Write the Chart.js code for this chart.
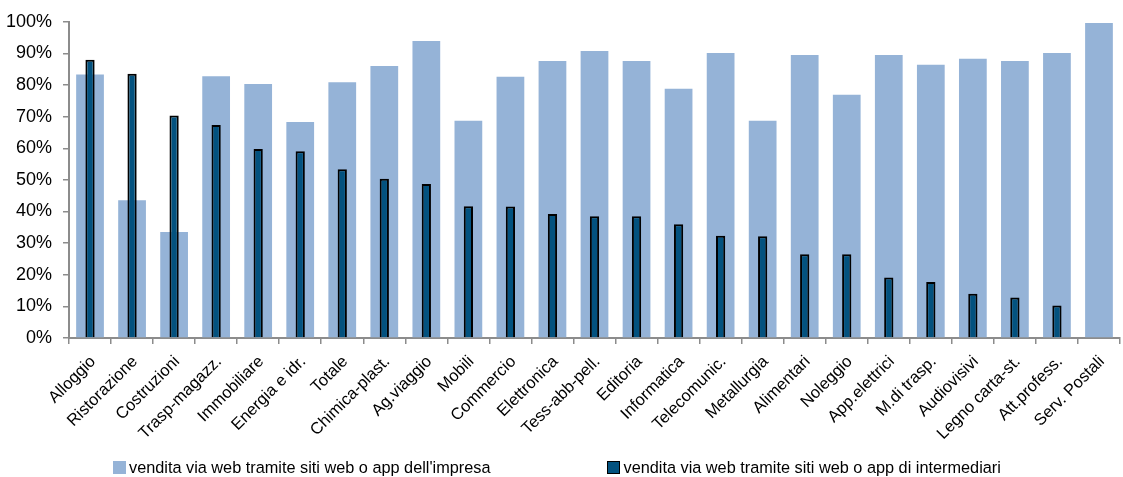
<!DOCTYPE html>
<html>
<head>
<meta charset="utf-8">
<script src="https://cdn.jsdelivr.net/npm/chart.js@4"></script>
<style>
  html, body { margin: 0; padding: 0; background: #fff; }
  #wrap { position: relative; width: 1123px; height: 477px; }
  #legend {
    position: absolute; left: 113px; top: 458px;
    display: flex; gap: 117px;
    font: 16.3px 'Liberation Sans', Arial, sans-serif; color: #000;
    line-height: 18px; white-space: nowrap;
  }
  #legend .item { display: flex; align-items: center; }
  #legend .box { width: 13px; height: 13px; margin-right: 3px; box-sizing: border-box; }
</style>
</head>
<body>
<div id="wrap">
  <canvas id="webSalesChart"></canvas>
  <div id="legend"></div>
</div>
<script>
// settori
const sectors = ["Alloggio", "Ristorazione", "Costruzioni", "Trasp-magazz.", "Immobiliare", "Energia e idr.",
  "Totale", "Chimica-plast.", "Ag.viaggio", "Mobili", "Commercio", "Elettronica", "Tess-abb-pell.",
  "Editoria", "Informatica", "Telecomunic.", "Metallurgia", "Alimentari", "Noleggio", "App.elettrici",
  "M.di trasp.", "Audiovisivi", "Legno carta-st.", "Att.profess.", "Serv. Postali"];

// % imprese - siti web o app dell'impresa
const ownSiteValues = [83.3, 43.6, 33.5, 82.8, 80.3, 68.3, 80.9, 86.0, 93.9, 68.7, 82.6, 87.6, 90.8,
  87.6, 78.8, 90.1, 68.7, 89.5, 76.9, 89.5, 86.4, 88.3, 87.6, 90.1, 99.6];

// % imprese - siti web o app di intermediari
const intermediaryValues = [88.0, 83.6, 70.4, 67.4, 59.8, 59.1, 53.4, 50.4, 48.7, 41.7, 41.6, 39.2, 38.5,
  38.5, 36.0, 32.3, 32.2, 26.5, 26.5, 19.1, 17.7, 14.0, 12.8, 10.3, null];

const yTicks = [0, 10, 20, 30, 40, 50, 60, 70, 80, 90, 100];

const axisGrey = "#8c8c8c";
const font = "'Liberation Sans', Arial, sans-serif";

const ctx = document.getElementById("webSalesChart").getContext("2d");
const chart = new Chart(ctx, {
  type: "bar",
  data: {
    labels: sectors,
    datasets: [{
      label: "vendita via web tramite siti web o app dell'impresa",
      data: ownSiteValues,
      backgroundColor: "#95b3d7",
      borderWidth: 0,
      grouped: false,
      order: 2,
      categoryPercentage: 1,
      barPercentage: 0.66
    }, {
      label: "vendita via web tramite siti web o app di intermediari",
      data: intermediaryValues,
      backgroundColor: "#03527f",
      borderColor: "#000",
      borderWidth: 2,
      borderSkipped: "bottom",
      grouped: false,
      order: 1,
      categoryPercentage: 1,
      barPercentage: 0.22
    }]
  },
  options: {
    responsive: true,
    maintainAspectRatio: false,
    animation: false,
    layout: { padding: { top: 21, right: 3, bottom: 0, left: 0 } },
    plugins: {
      tooltip: { enabled: false },
      legend: { display: false }
    },
    scales: {
      x: {
        offset: true,
        afterFit(scale) { scale.height = 139; },
        grid: { display: true, offset: true, drawOnChartArea: false, drawTicks: true, tickLength: 6, color: axisGrey, lineWidth: 1.5 },
        border: { color: axisGrey, width: 2 },
        ticks: {
          minRotation: 45,
          maxRotation: 45,
          autoSkip: false,
          color: "#000",
          font: { family: font, size: 16.5 },
          padding: 8,
          labelOffset: 3
        }
      },
      y: {
        min: 0,
        max: 100,
        afterBuildTicks(scale) { scale.ticks = yTicks.map(v => ({ value: v })); },
        afterFit(scale) { scale.width = 69; },
        grid: { display: true, drawOnChartArea: false, drawTicks: true, tickLength: 6, color: axisGrey, lineWidth: 1.5 },
        border: { color: axisGrey, width: 2 },
        ticks: {
          color: "#000",
          font: { family: font, size: 18 },
          padding: 11,
          callback: v => v + "%"
        }
      }
    }
  }
});

// legenda in HTML
const legendEl = document.getElementById("legend");
chart.data.datasets.forEach((ds, i) => {
  const item = document.createElement("div");
  item.className = "item";
  const box = document.createElement("span");
  box.className = "box";
  box.style.background = ds.backgroundColor;
  if (i === 1) box.style.border = "1.5px solid #000";
  const txt = document.createElement("span");
  txt.textContent = ds.label;
  item.appendChild(box);
  item.appendChild(txt);
  legendEl.appendChild(item);
});
</script>
</body>
</html>
